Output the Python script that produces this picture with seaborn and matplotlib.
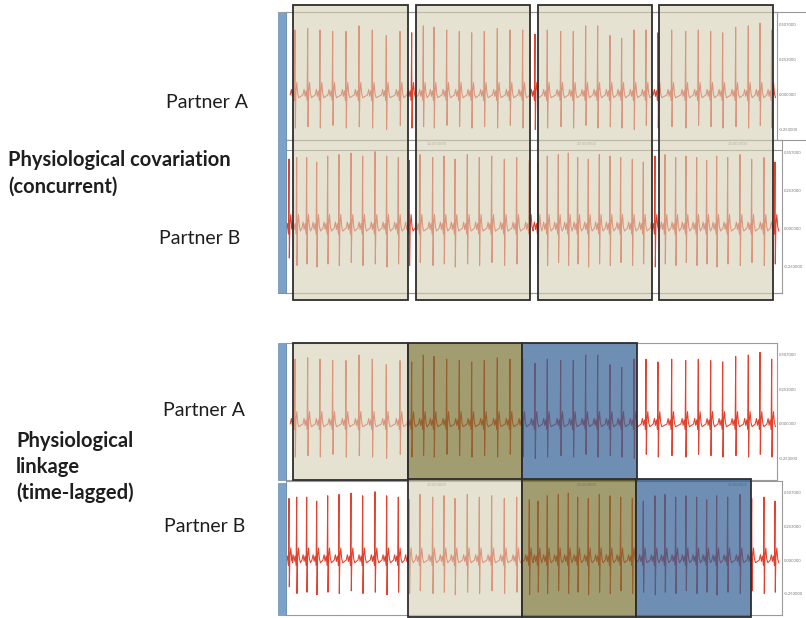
import matplotlib.pyplot as plt
import seaborn as sns
import pandas as pd
from matplotlib.patches import Rectangle
from matplotlib.lines import Line2D
from matplotlib.colors import to_rgba
from matplotlib.transforms import blended_transform_factory

W, H = 806, 618

# R-peak times (s) and spike heights
A_BEATS = [0.9, 2.17, 3.4, 4.67, 6.0, 7.3, 8.63, 10.03, 11.4, 12.57,
           13.73, 14.8, 16.07, 17.33, 18.57, 19.83, 21.13, 22.4, 23.67, 24.9,
           26.13, 27.47, 28.73, 29.97, 31.17, 32.4, 33.57, 34.8, 36.0, 37.2,
           38.57, 39.97, 41.23, 42.47, 43.67, 44.97, 46.23, 47.4, 48.57]
A_R = [0.47, 0.48, 0.47, 0.46, 0.46, 0.50, 0.47, 0.43, 0.46, 0.45,
       0.50, 0.49, 0.47, 0.46, 0.45, 0.46, 0.48, 0.47, 0.47, 0.44,
       0.47, 0.46, 0.46, 0.50, 0.50, 0.43, 0.41, 0.47, 0.47, 0.45,
       0.47, 0.46, 0.47, 0.46, 0.45, 0.49, 0.50, 0.52, 0.47]
A_S = [-0.24, -0.23, -0.24, -0.22, -0.24, -0.23, -0.24, -0.25, -0.22, -0.24,
       -0.23, -0.24, -0.22, -0.23, -0.24, -0.23, -0.24, -0.22, -0.24, -0.25,
       -0.24, -0.23, -0.24, -0.22, -0.24, -0.23, -0.24, -0.25, -0.22, -0.24,
       -0.23, -0.24, -0.22, -0.23, -0.24, -0.23, -0.24, -0.22, -0.24]

B_BEATS = [0.3, 1.07, 2.07, 3.07, 4.17, 5.3, 6.5, 7.67, 8.9, 10.07,
           11.23, 12.33, 13.4, 14.67, 15.8, 16.9, 18.13, 19.33, 20.57, 21.83,
           23.07, 24.33, 25.2, 26.13, 27.23, 28.23, 29.17, 30.23, 31.33, 32.4,
           33.47, 34.63, 35.73, 36.9, 37.9, 38.97, 40.0, 41.07, 42.07, 43.07,
           44.17, 45.4, 46.57, 47.8, 48.9]
B_R = [0.46, 0.47, 0.47, 0.44, 0.48, 0.49, 0.50, 0.48, 0.51, 0.48,
       0.47, 0.45, 0.49, 0.47, 0.48, 0.46, 0.49, 0.47, 0.48, 0.46,
       0.47, 0.45, 0.44, 0.48, 0.49, 0.50, 0.47, 0.46, 0.49, 0.48,
       0.47, 0.46, 0.44, 0.48, 0.49, 0.47, 0.48, 0.47, 0.45, 0.48,
       0.47, 0.49, 0.46, 0.47, 0.44]
B_S = [-0.20, -0.25, -0.24, -0.26, -0.24, -0.25, -0.23, -0.25, -0.24, -0.26,
       -0.24, -0.25, -0.23, -0.25, -0.24, -0.26, -0.24, -0.25, -0.23, -0.25,
       -0.24, -0.26, -0.24, -0.25, -0.23, -0.25, -0.24, -0.26, -0.24, -0.25,
       -0.23, -0.25, -0.24, -0.26, -0.24, -0.25, -0.23, -0.25, -0.24, -0.26,
       -0.24, -0.25, -0.23, -0.25, -0.24]

# one heartbeat around its R peak: offset (s) and value; R and S filled per beat
BEAT_OFFSETS = [-0.48, -0.36, -0.26, -0.16, -0.06, 0.0, 0.03, 0.09, 0.18, 0.27, 0.38]
BEAT_VALUES = [0.00, 0.04, -0.01, 0.03, -0.04, None, None, 0.02, 0.09, 0.01, -0.02]
R_IDX, S_IDX = 5, 6

RIGHT_TICKS = [-0.253, 0.0, 0.253, 0.507]
RIGHT_LABELS = ["-0.253000", "0.000000", "0.253000", "0.507000"]

# analysis windows (s)
TOP_WINDOWS = [(0.7, 12.2), (13.0, 24.4), (25.2, 36.6), (37.3, 48.7)]
LAG_A_WINDOWS = [(0.7, 12.2, "beige"), (12.2, 23.6, "olive"), (23.6, 35.1, "blue")]
LAG_B_WINDOWS = [(12.2, 23.6, "beige"), (23.6, 35.0, "olive"), (35.0, 46.5, "blue")]

BOX_COLORS = {"beige": ("#D4CFB4", 0.6), "olive": ("#766E2E", 0.68), "blue": ("#305F94", 0.7)}
RED = "#E1412D"
STRIP = "#7DA2C8"
FRAME = "#9a9a9a"


def fig_rect(x0, y0, x1, y1):
    return [x0 / W, 1 - y1 / H, (x1 - x0) / W, (y1 - y0) / H]


def fy(p):
    return 1 - p / H


def build_trace(beats, r_amp, s_amp):
    rows = []
    for t, r, s in zip(beats, r_amp, s_amp, strict=True):
        for i, (dt, v) in enumerate(zip(BEAT_OFFSETS, BEAT_VALUES)):
            if i == R_IDX:
                v = r
            elif i == S_IDX:
                v = s
            rows.append((t + dt, v))
    return pd.DataFrame(rows, columns=["time", "mv"])


def ecg_panel(fig, rect, df, xmax, ylim):
    ax = fig.add_axes(fig_rect(*rect))
    sns.lineplot(data=df, x="time", y="mv", ax=ax, color=RED, linewidth=0.75,
                 sort=False, estimator=None)
    ax.set_xlim(0, xmax)
    ax.set_ylim(*ylim)
    ax.set_xlabel("")
    ax.set_ylabel("")
    ax.set_xticks([])
    ax.yaxis.tick_right()
    ax.set_yticks(RIGHT_TICKS)
    ax.set_yticklabels(RIGHT_LABELS, fontsize=3, color="#777777")
    ax.tick_params(axis="y", length=0, pad=1.5)
    for sp in ax.spines.values():
        sp.set_color(FRAME)
        sp.set_linewidth(0.8)
    return ax


def add_box(fig, trans, x0, x1, y0, y1, kind):
    face, alpha = BOX_COLORS[kind]
    fig.add_artist(Rectangle((x0, y0), x1 - x0, y1 - y0, transform=trans,
                             facecolor=to_rgba(face, alpha), edgecolor="#2e2e2e",
                             linewidth=1.3, zorder=5))


sns.set_theme(style="white")
plt.rcParams["font.family"] = ["Lato", "DejaVu Sans"]

fig = plt.figure(figsize=(W / 100, H / 100), dpi=100)

trace_a = build_trace(A_BEATS, A_R, A_S)
trace_b = build_trace(B_BEATS, B_R, B_S)

ax_a1 = ecg_panel(fig, (286, 12, 777, 140), trace_a, 49.1, (-0.326, 0.60))
ax_b1 = ecg_panel(fig, (286, 140, 782, 293), trace_b, 49.6, (-0.433, 0.587))
ax_a2 = ecg_panel(fig, (286, 343, 777, 480), trace_a, 49.1, (-0.406, 0.587))
ax_b2 = ecg_panel(fig, (286, 481, 782, 615), trace_b, 49.6, (-0.41, 0.59))

# small time stamps along the top of the partner B panels
for ax in (ax_b1, ax_b2):
    for t, lab in [(15.1, "10.000000"), (30.1, "20.000000"), (45.2, "30.000000")]:
        ax.text(t, 0.985, lab, transform=blended_transform_factory(ax.transData, ax.transAxes),
                fontsize=3, color="#888888", ha="center", va="top")

# blue channel strips on the left
for y0, y1 in [(13, 293), (343, 480), (483, 615)]:
    fig.add_artist(Rectangle((278 / W, fy(y1)), 8 / W, (y1 - y0) / H,
                             transform=fig.transFigure, facecolor=STRIP,
                             edgecolor="#6a8fb5", linewidth=0.5, zorder=3))

# window frame lines
for x0, x1, y in [(278, 806, 12), (278, 806, 140), (286, 782, 150), (278, 782, 293)]:
    fig.add_artist(Line2D([x0 / W, x1 / W], [fy(y), fy(y)], transform=fig.transFigure,
                          color=FRAME, linewidth=0.8, zorder=2))

# concurrent windows span both partners
top_trans = blended_transform_factory(ax_a1.transData, fig.transFigure)
for x0, x1 in TOP_WINDOWS:
    add_box(fig, top_trans, x0, x1, fy(300), fy(5), "beige")

# time-lagged windows
a2_trans = blended_transform_factory(ax_a2.transData, fig.transFigure)
for x0, x1, kind in LAG_A_WINDOWS:
    add_box(fig, a2_trans, x0, x1, fy(480), fy(343), kind)
b2_trans = blended_transform_factory(ax_b2.transData, fig.transFigure)
for x0, x1, kind in LAG_B_WINDOWS:
    add_box(fig, b2_trans, x0, x1, fy(617), fy(479), kind)

txt = "#1e1e1e"
fs_plain, fs_bold = 14, 14.5
fig.text(248 / W, fy(103), "Partner A", ha="right", va="center", fontsize=fs_plain, color=txt)
fig.text(8 / W, fy(160), "Physiological covariation", ha="left", va="center",
         fontsize=fs_bold, fontweight="bold", color=txt)
fig.text(8 / W, fy(187), "(concurrent)", ha="left", va="center",
         fontsize=fs_bold, fontweight="bold", color=txt)
fig.text(240 / W, fy(239), "Partner B", ha="right", va="center", fontsize=fs_plain, color=txt)

fig.text(245 / W, fy(411), "Partner A", ha="right", va="center", fontsize=fs_plain, color=txt)
for y, line in [(441, "Physiological"), (467, "linkage"), (493, "(time-lagged)")]:
    fig.text(16 / W, fy(y), line, ha="left", va="center", fontsize=fs_bold,
             fontweight="bold", color=txt)
fig.text(245 / W, fy(526), "Partner B", ha="right", va="center", fontsize=fs_plain, color=txt)

fig.savefig("out.png", dpi=100)
